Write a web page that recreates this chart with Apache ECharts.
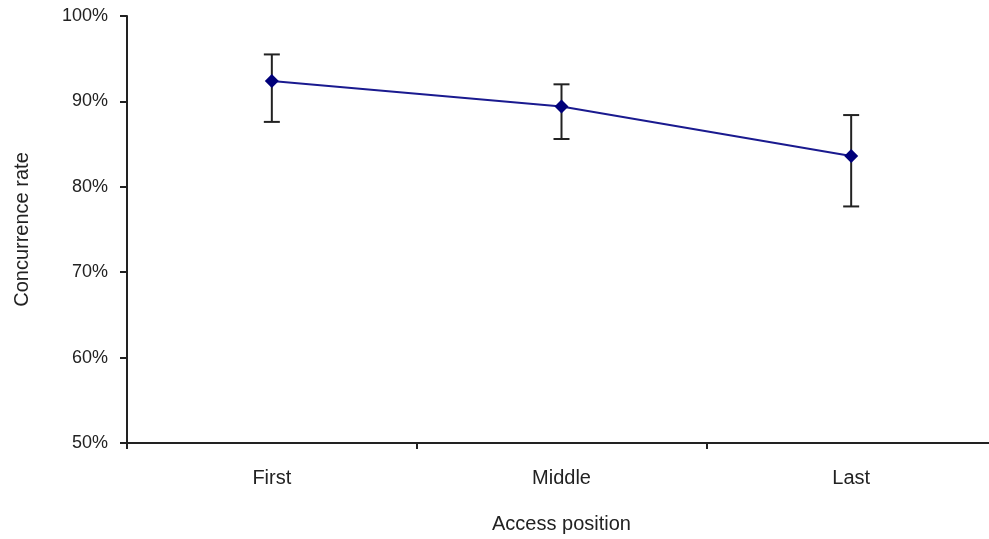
<!DOCTYPE html>
<html><head><meta charset="utf-8">
<script src="https://cdn.jsdelivr.net/npm/echarts@6/dist/echarts.min.js"></script>
<style>html,body{margin:0;padding:0;background:#fff;overflow:hidden}#c{width:1000px;height:539px}</style>
</head><body><div id="c"></div>
<script>
var categories = ['First', 'Middle', 'Last'];
var rates = [92.4, 89.4, 83.6];
var errHigh = [95.5, 92.0, 88.4];
var errLow = [87.6, 85.6, 77.7];
var yTicks = [50, 60, 70, 80, 90, 100];

var errData = categories.map(function (c, i) { return [i, errLow[i], errHigh[i]]; });
var font = 'Liberation Sans';
var chart = echarts.init(document.getElementById('c'));
chart.setOption({
  animation: false,
  grid: { left: 127, top: 16, width: 869, height: 428, containLabel: false },
  xAxis: {
    type: 'category', data: categories, boundaryGap: true,
    name: 'Access position', nameLocation: 'middle', nameGap: 71,
    nameTextStyle: { fontFamily: font, fontSize: 20, color: '#222' },
    axisLine: { lineStyle: { color: '#222', width: 2 } },
    axisTick: { show: true, length: 6, lineStyle: { color: '#222', width: 2 } },
    axisLabel: { fontFamily: font, fontSize: 20, color: '#222', margin: 25 }
  },
  yAxis: {
    type: 'value', min: yTicks[0], max: yTicks[yTicks.length - 1], interval: 10,
    name: 'Concurrence rate', nameLocation: 'middle', nameGap: 95, nameRotate: 90,
    nameTextStyle: { fontFamily: font, fontSize: 20, color: '#222' },
    axisLine: { show: true, lineStyle: { color: '#222', width: 2 } },
    axisTick: { show: true, length: 7, lineStyle: { color: '#222', width: 2 } },
    splitLine: { show: false },
    axisLabel: { fontFamily: font, fontSize: 18, color: '#222', margin: 19,
      formatter: function (v) { return v + '%'; } }
  },
  series: [
    {
      type: 'custom',
      data: errData,
      z: 1,
      renderItem: function (params, api) {
        var x = api.value(0);
        var lo = api.coord([x, api.value(1)]);
        var hi = api.coord([x, api.value(2)]);
        var hw = 8;
        var st = { stroke: '#222', lineWidth: 2 };
        return { type: 'group', children: [
          { type: 'line', shape: { x1: lo[0], y1: lo[1], x2: hi[0], y2: hi[1] }, style: st },
          { type: 'line', shape: { x1: lo[0] - hw, y1: lo[1], x2: lo[0] + hw, y2: lo[1] }, style: st },
          { type: 'line', shape: { x1: hi[0] - hw, y1: hi[1], x2: hi[0] + hw, y2: hi[1] }, style: st }
        ]};
      }
    },
    {
      type: 'line', data: rates, z: 2,
      symbol: 'diamond', symbolSize: 14,
      lineStyle: { color: '#1a1a8f', width: 2 },
      itemStyle: { color: '#00007a' }
    }
  ]
});
</script></body></html>
